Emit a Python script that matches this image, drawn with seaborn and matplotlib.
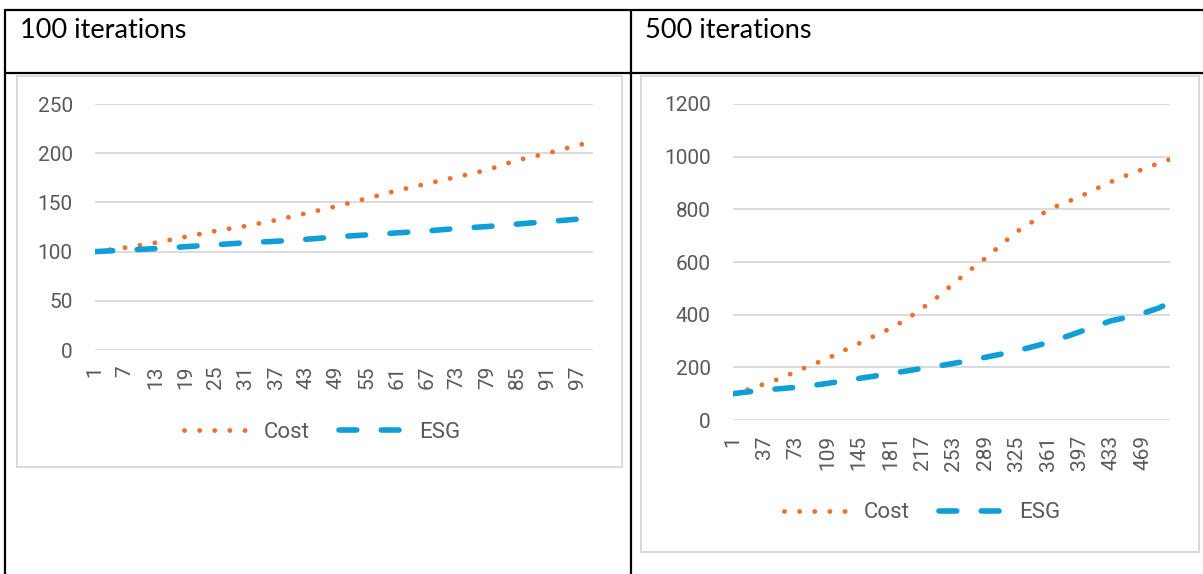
import pandas as pd
import matplotlib.pyplot as plt
import seaborn as sns
from matplotlib.lines import Line2D
from matplotlib.patches import Rectangle

sns.set_theme(style="white")
plt.rcParams['font.family'] = ['Roboto', 'DejaVu Sans']

iter_100 = [1, 7, 13, 19, 25, 31, 37, 43, 49, 55, 61, 67, 73, 79, 85, 91, 97, 100]
cost_100 = [100, 104, 109, 115, 121, 126, 132, 139, 146, 154, 162, 169, 176, 183, 193, 200, 208, 212]
esg_100 = [100, 101.5, 103, 105, 107, 109, 110.5, 112.5, 115, 117, 119, 121, 123.5, 125.5, 128, 130.5, 133, 135]

iter_500 = [1, 19, 37, 55, 73, 91, 109, 127, 145, 163, 181, 199, 217, 235, 253, 271,
            289, 307, 325, 343, 361, 379, 397, 415, 433, 451, 469, 487, 500]
cost_500 = [100, 116, 137, 158, 184, 209, 234, 263, 291, 320, 348, 382, 424, 468, 519, 567,
            614, 665, 715, 753, 800, 823, 848, 877, 905, 930, 952, 975, 990]
esg_500 = [100, 107, 114, 119, 124, 131, 139, 148, 158, 167, 177, 186, 196, 205, 215, 226,
           238, 250, 263, 278, 294, 314, 335, 356, 377, 390, 405, 425, 446]

ticks_100 = list(range(1, 100, 6))
ticks_500 = list(range(1, 500, 36))
yticks_100 = [0, 50, 100, 150, 200, 250]
yticks_500 = [0, 200, 400, 600, 800, 1000, 1200]

COST_COLOR = '#E97132'
ESG_COLOR = '#0F9ED5'
GRID = '#D9D9D9'
TEXT = '#595959'

W, H = 1203, 574
fig = plt.figure(figsize=(W / 100, H / 100), dpi=100)


def px_axes(x0, y0, x1, y1):
    # pixel box (top-left origin) -> figure axes
    return fig.add_axes([x0 / W, 1 - y1 / H, (x1 - x0) / W, (y1 - y0) / H])


def fig_line(xs, ys, **kw):
    fig.add_artist(Line2D([x / W for x in xs], [1 - y / H for y in ys],
                          transform=fig.transFigure, **kw))


def fig_box(x0, y0, x1, y1):
    fig.add_artist(Rectangle((x0 / W, 1 - y1 / H), (x1 - x0) / W, (y1 - y0) / H,
                             transform=fig.transFigure, fill=False,
                             edgecolor=GRID, linewidth=1.4))


def draw_chart(ax, it, cost, esg, xmax, xticks, yticks, legend_x, legend_y):
    df = pd.DataFrame({'iter': it, 'Cost': cost, 'ESG': esg})
    sns.lineplot(data=df, x='iter', y='Cost', ax=ax, color=COST_COLOR,
                 linewidth=3.5, linestyle=(0, (0.01, 3.1)),
                 dash_capstyle='round', label='Cost')
    sns.lineplot(data=df, x='iter', y='ESG', ax=ax, color=ESG_COLOR,
                 linewidth=4.0, linestyle=(0, (3.2, 4.4)),
                 dash_capstyle='round', label='ESG')
    ax.set_xlim(1, xmax)
    ax.set_ylim(yticks[0], yticks[-1])
    ax.set_yticks(yticks)
    ax.set_xticks(xticks)
    ax.set_xticklabels([str(t) for t in xticks], rotation=90)
    ax.tick_params(axis='both', labelsize=15, labelcolor=TEXT, length=0)
    ax.tick_params(axis='y', pad=16)
    ax.tick_params(axis='x', pad=11)
    ax.grid(axis='y', color=GRID, linewidth=1.3)
    ax.set_axisbelow(True)
    for s in ax.spines.values():
        s.set_visible(False)
    ax.set_xlabel('')
    ax.set_ylabel('')
    ax.patch.set_alpha(0)
    ax.get_legend().remove()
    handles, labels = ax.get_legend_handles_labels()
    fig.legend(handles, labels, loc='center', ncol=2, frameon=False,
               bbox_to_anchor=(legend_x / W, 1 - legend_y / H),
               fontsize=16, labelcolor=TEXT, handlelength=2.9,
               columnspacing=1.3, handletextpad=0.7)


# table borders
fig_line([5, W], [10, 10], color='black', linewidth=1.6)
fig_line([5, W], [73, 73], color='black', linewidth=1.6)
fig_line([5, 5], [10, H], color='black', linewidth=1.6)
fig_line([631, 631], [10, H], color='black', linewidth=1.6)

fig.text(20 / W, 1 - 31 / H, '100 iterations', fontsize=19.5, va='center',
         family=['Lato', 'DejaVu Sans'], color='black')
fig.text(645 / W, 1 - 31 / H, '500 iterations', fontsize=19.5, va='center',
         family=['Lato', 'DejaVu Sans'], color='black')

# chart frames
fig_box(17, 76, 622, 467)
fig_box(641, 76, 1199, 552)

ax1 = px_axes(95, 104, 593, 350)
draw_chart(ax1, iter_100, cost_100, esg_100, 100, ticks_100, yticks_100, 322, 432)

ax2 = px_axes(733, 104, 1170, 420)
draw_chart(ax2, iter_500, cost_500, esg_500, 500, ticks_500, yticks_500, 922, 513)

fig.savefig('out.png', dpi=100)
